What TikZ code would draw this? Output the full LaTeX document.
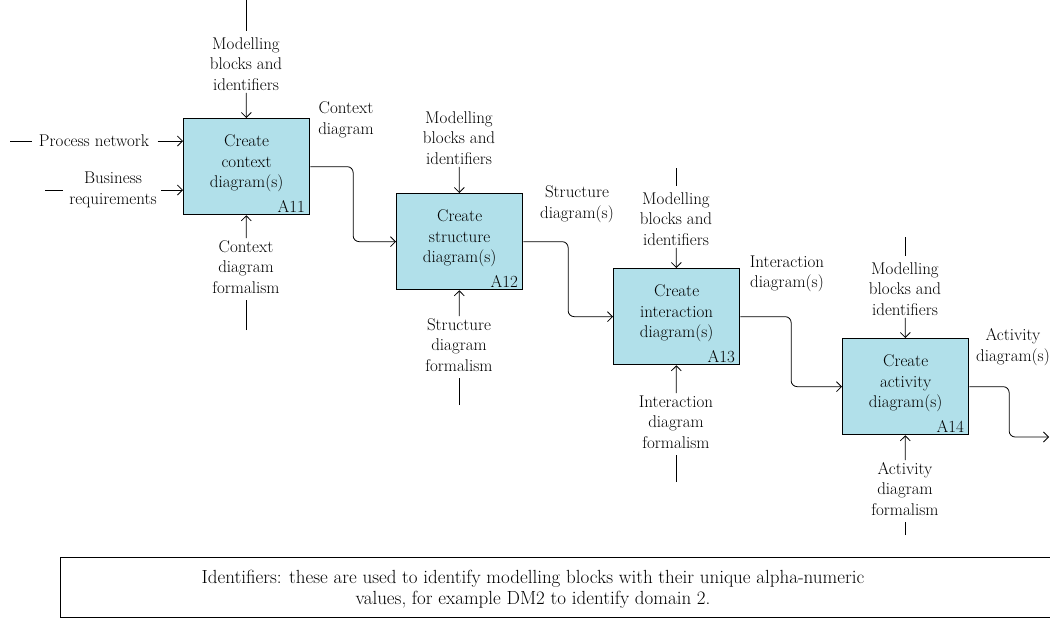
\documentclass[tikz,border=0pt]{standalone}
\usepackage{fontspec}
\usetikzlibrary{calc}
\usetikzlibrary{arrows,arrows.meta}

\definecolor{actblue}{RGB}{177,224,234}

\begin{document}
\begin{tikzpicture}[x=1pt,y=-1pt,>={Straight Barb[length=5pt,width=10pt]},line width=0.8pt,
    font=\fontsize{17}{20.5}\selectfont,
    lbl/.style={align=center,inner sep=2pt}]
\useasboundingbox (0,0) rectangle (1050,619);

\coordinate (a) at (183,118);
\coordinate (b) at (396,193);
\coordinate (c) at (613,268);
\coordinate (d) at (842,338);
\coordinate (z) at (1049,437);

\newcommand{\actbox}[4]{
    \node[draw,line width=1.3pt,fill=actblue,anchor=north west,
          minimum width=126pt,minimum height=96pt,inner sep=0pt] (#1) at (#2) {};
    \node[lbl] (#1t) at ($(#1.center)+(0,-3)$) {#3};
    \node[anchor=south east,inner sep=1pt] (#1n) at ($(#1.south east)+(-4,-1)$) {#4};
}

\newcommand{\ctrl}[3]{
    \node[lbl] (#1c) at (#2,#3) {Modelling\\blocks and\\identifiers};
    \draw[->] (#1c) -- (#1);
}

\newcommand{\mech}[4]{
    \node[lbl] (#1m) at (#2,#3) {#4};
    \draw[->] (#1m) -- (#1);
}

\newcommand{\stub}[3]{
    \coordinate (#1) at (#2);
    \draw[shorten >=4pt] (#1) -- (#3);
}

\newcommand{\flow}[2]{
    \draw[->,rounded corners=6pt] (#1.east) -| ($(#1.east)!.5!(#2.west)$) |- (#2.west);
}

    % activity boxes
    \actbox{A11}{a}{Create\\context\\diagram(s)}{A11}
    \actbox{A12}{b}{Create\\structure\\diagram(s)}{A12}
    \actbox{A13}{c}{Create\\interaction\\diagram(s)}{A13}
    \actbox{A14}{d}{Create\\activity\\diagram(s)}{A14}

    % inputs
    \node[lbl] (pn) at (94,141) {Process network};
    \node[lbl] (br) at (113,190) {Business\\requirements};
    \stub{pns}{10,141}{pn.west}
    \stub{brs}{45,190}{br.west}
    \draw[->,shorten <=6pt] (pn.east) -- (A11.west |- pn.east);
    \draw[->,shorten <=2pt] (br.east) -- (A11.west |- br.east);

    % controls
    \ctrl{A11}{246}{64}
    \ctrl{A12}{459}{138}
    \ctrl{A13}{676}{219}
    \ctrl{A14}{905}{289}
    \stub{A11u}{246,0}{A11c.north}
    \stub{A13u}{676,168}{A13c.north}
    \stub{A14u}{905,237}{A14c.north}

    % mechanisms
    \mech{A11}{246}{267}{Context\\diagram\\formalism}
    \mech{A12}{459}{345}{Structure\\diagram\\formalism}
    \mech{A13}{676}{422}{Interaction\\diagram\\formalism}
    \mech{A14}{905}{489}{Activity\\diagram\\formalism}
    \stub{A11d}{246,330}{A11m.south}
    \stub{A12d}{459,405}{A12m.south}
    \stub{A13d}{676,482}{A13m.south}
    \stub{A14d}{905,535}{A14m.south}

    % outputs
    \flow{A11}{A12}
    \flow{A12}{A13}
    \flow{A13}{A14}
    \draw[->,rounded corners=6pt] (A14.east) -| ($(A14.east)!.5!(z)$) |- (z);
    \node[lbl] (o1) at (346,120) {Context\\diagram};
    \node[lbl] (o2) at (577,204) {Structure\\diagram(s)};
    \node[lbl] (o3) at (787,274) {Interaction\\diagram(s)};
    \node[lbl] (o4) at (1013,347) {Activity\\diagram(s)};

    % note
    \draw[line width=1pt] (60,557) rectangle (1060,617);
    \node[lbl,font=\fontsize{19}{21}\selectfont] (note) at (533,589) {Identifiers: these are used to identify modelling blocks with their unique alpha-numeric\\values, for example DM2 to identify domain 2.};
\end{tikzpicture}
\end{document}
